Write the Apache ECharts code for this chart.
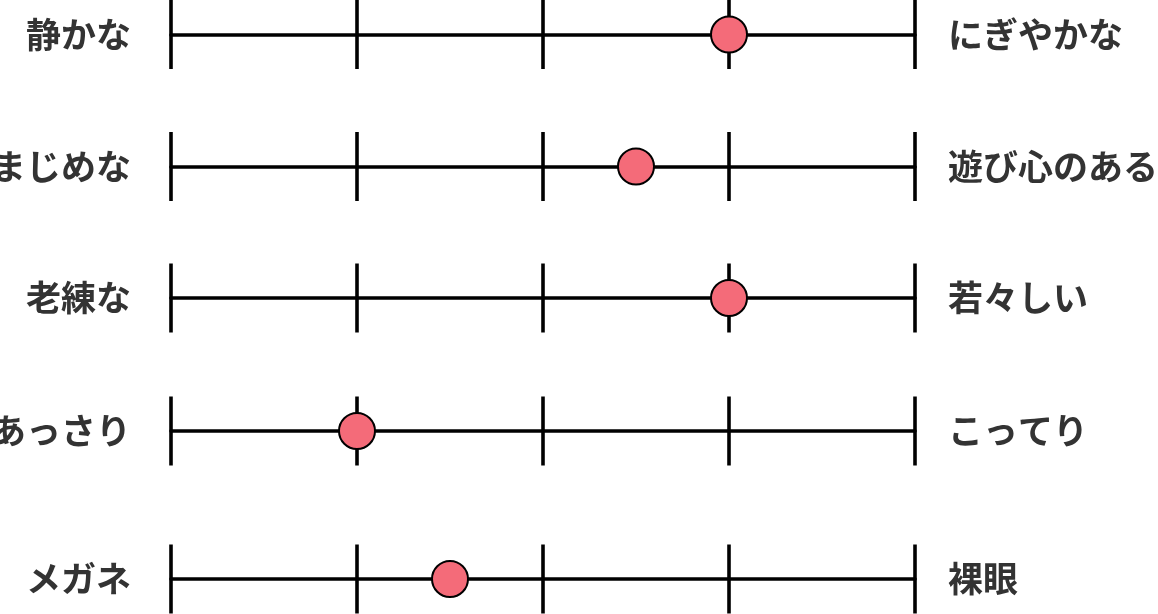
<!DOCTYPE html>
<html>
<head>
<meta charset="utf-8">
<style>
html,body{margin:0;padding:0;background:#fff;}
#chart{width:1158px;height:614px;}
</style>
<script src="https://cdn.jsdelivr.net/npm/echarts@6/dist/echarts.min.js"></script>
</head>
<body>
<div id="chart"></div>
<script>
// Data
const leftLabels = ['静かな', 'まじめな', '老練な', 'あっさり', 'メガネ'];
const rightLabels = ['にぎやかな', '遊び心のある', '若々しい', 'こってり', '裸眼'];
const scores = [3, 2.5, 3, 1, 1.5];
const scaleMin = 0, scaleMax = 4, scaleStep = 1;

// Layout
const rowCenters = [34.5, 166.5, 298, 431, 579];
const rowHeight = 69;
const font = '"Noto Sans CJK JP", "Noto Sans", sans-serif';
const textColor = '#333333';
const lineW = 3.6;

const grids = [], xAxes = [], yAxes = [], series = [];
leftLabels.forEach((lab, i) => {
  grids.push({ left: 171, right: 243, top: rowCenters[i] - rowHeight / 2, height: rowHeight, outerBoundsMode: 'none', containLabel: false });
  xAxes.push({
    gridIndex: i, type: 'value', min: scaleMin, max: scaleMax, interval: scaleStep,
    axisLine: { show: true, onZero: true, lineStyle: { color: '#000', width: lineW } },
    axisTick: { show: false }, axisLabel: { show: false },
    splitLine: { show: true, showMinLine: true, showMaxLine: true, lineStyle: { color: '#000', width: lineW } }
  });
  yAxes.push({
    gridIndex: i, type: 'value', min: -1, max: 1, position: 'left',
    axisLine: { show: false }, axisTick: { show: false }, axisLabel: { show: false }, splitLine: { show: false },
    name: lab, nameLocation: 'middle', nameRotate: 0, nameGap: 40,
    nameTextStyle: { fontFamily: font, fontSize: 35, fontWeight: 'bold', color: textColor, align: 'right', verticalAlign: 'middle' }
  });
  yAxes.push({
    gridIndex: i, type: 'value', min: -1, max: 1, position: 'right',
    axisLine: { show: false }, axisTick: { show: false }, axisLabel: { show: false }, splitLine: { show: false },
    name: rightLabels[i], nameLocation: 'middle', nameRotate: 0, nameGap: 33,
    nameTextStyle: { fontFamily: font, fontSize: 35, fontWeight: 'bold', color: textColor, align: 'left', verticalAlign: 'middle' }
  });
  series.push({
    type: 'scatter', xAxisIndex: i, yAxisIndex: i * 2,
    data: [[scores[i], 0]], symbol: 'circle', symbolSize: 36, z: 10,
    itemStyle: { color: '#F46B79', borderColor: '#000', borderWidth: 2, opacity: 1 },
    silent: true
  });
});

const chart = echarts.init(document.getElementById('chart'), null, { renderer: 'canvas' });
chart.setOption({
  animation: false,
  backgroundColor: '#fff',
  grid: grids, xAxis: xAxes, yAxis: yAxes, series: series
});
</script>
</body>
</html>
